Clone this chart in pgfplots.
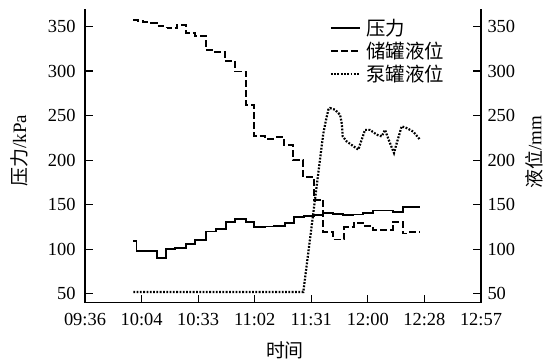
\documentclass[border=0pt]{standalone}
\usepackage{fontspec}
\setmainfont{Liberation Serif}
\newfontfamily\tnr{Liberation Serif}
\newfontfamily\cjk{Noto Sans CJK SC}
\usepackage{pgfplots}
\pgfplotsset{compat=1.18}
\usetikzlibrary{calc}
\newcommand{\lblfont}{\tnr\fontsize{19}{21}\selectfont}
\begin{document}
\begin{tikzpicture}
\pgfplotsset{
  base/.style={
    width=396bp, height=294bp, scale only axis,
    xmin=0, xmax=7, ymin=40, ymax=370,
    /pgf/number format/assume math mode=true,
    tick label style={font=\tnr\fontsize{18.5}{20}\selectfont},
    axis line style={line width=1.5bp},
    major tick style={line width=1.2bp, black},
    major tick length=8bp,
    tick align=inside,
    ytick={50,100,...,350},
  }
}
\begin{axis}[base, name=ax,
  axis x line*=bottom, axis y line*=left,
  xtick={0,...,7},
  xticklabels={09:36,10:04,10:33,11:02,11:31,12:00,12:28,12:57},
  yticklabel style={xshift=-6bp},
  xticklabel style={yshift=-7bp},
  xlabel={{\cjk 时间}},
  ylabel={{\cjk 压力}/kPa},
  every axis x label/.style={at={(axis description cs:0.505,-0.161)}, anchor=center, font=\lblfont},
  every axis y label/.style={at={(axis description cs:-0.167,0.518)}, anchor=center, rotate=90, font=\lblfont},
  legend style={draw=none, fill=none, at={(0.61,0.977)}, anchor=north west,
    font=\cjk\fontsize{19.5}{21}\selectfont, row sep=2bp,
    nodes={inner sep=1.5bp}},
  legend image code/.code={\draw[#1] (0bp,0bp) -- (29bp,0bp); \path (33bp,0bp);},
  legend cell align=left,
]
\addplot[const plot, black, line width=1.8bp] coordinates {
(0.854,109) (0.912,98) (1.267,90.5) (1.432,100) (1.591,101) (1.785,106)
(1.950,110) (2.139,120) (2.310,123) (2.487,131) (2.657,134) (2.841,131)
(2.993,125) (3.182,125.5) (3.346,126.5) (3.530,129.6) (3.695,136) (3.872,137)
(4.048,138) (4.213,141) (4.390,140) (4.566,138) (4.743,139) (4.920,141)
(5.096,143.4) (5.439,142) (5.627,147) (5.922,147)
};
\addlegendentry{压力}
\addplot[const plot, black, line width=1.8bp, dash pattern=on 7bp off 3bp] coordinates {
(0.854,357.5) (0.942,356) (1.031,355) (1.167,353.5) (1.267,351) (1.384,349)
(1.472,348) (1.621,352) (1.785,342.6) (1.944,339.6) (2.134,324) (2.298,321)
(2.475,311.6) (2.652,299.6) (2.841,262) (2.987,226.7) (3.182,224) (3.346,225.6)
(3.523,216.6) (3.682,200) (3.859,180.7) (4.048,155.7) (4.213,119) (4.390,111)
(4.578,124.7) (4.755,129.6) (4.920,125.8) (5.096,122) (5.439,131) (5.616,117.6)
(5.745,119) (5.922,119)
};
\addlegendentry{储罐液位}
\addplot[black, line width=2.2bp, dash pattern=on 1.8bp off 1.5bp] coordinates {
(0.854,52) (3.859,52) (4.066,156) (4.172,210) (4.213,230) (4.260,245)
(4.301,256.6) (4.331,258.5) (4.419,256.6) (4.508,251) (4.538,241.7) (4.555,226.7)
(4.626,221) (4.831,211.8) (4.891,223) (4.950,234) (5.038,234) (5.157,228.6)
(5.245,226.7) (5.303,234) (5.392,219) (5.462,208) (5.510,219) (5.598,238)
(5.687,236) (5.803,232) (5.922,223)
};
\addlegendentry{泵罐液位}
\end{axis}
\begin{axis}[base,
  axis y line*=right, axis x line=none,
  yticklabel style={xshift=3bp},
  ylabel={{\cjk 液位}/mm},
  every axis y label/.style={at={(axis description cs:1.134,0.513)}, anchor=center, rotate=90, font=\lblfont},
]
\end{axis}
\pgfresetboundingbox
\path[use as bounding box] ($(ax.south west)+(-85bp,-57.3bp)$) rectangle ($(ax.north east)+(73bp,8.7bp)$);
\end{tikzpicture}
\end{document}
